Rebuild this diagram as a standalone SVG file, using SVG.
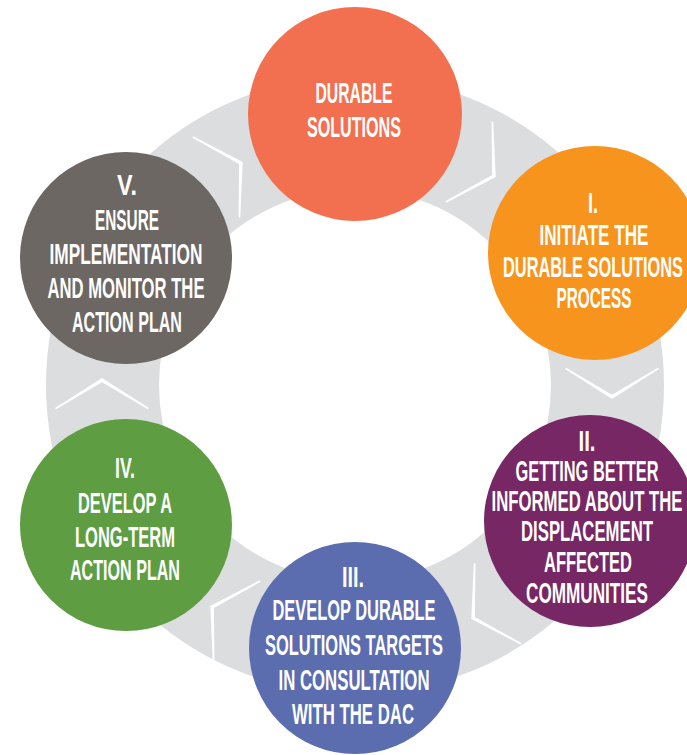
<svg xmlns="http://www.w3.org/2000/svg" width="687" height="755" viewBox="0 0 687 755">
  <defs>
    <style>
      .lbl { font-family: "Liberation Sans Narrow", "Liberation Sans", Arial, sans-serif; font-weight: bold; font-size: 29px; fill: #ffffff; text-anchor: middle; }
      .chev { fill: #ffffff; }
    </style>
    <path id="chev" d="M-28,-47 L2,0 L-28,47 L-29.3,45.8 L-2.2,0 L-29.3,-45.8 Z"/>
  </defs>
  <rect width="687" height="755" fill="#ffffff"/>
  <circle id="ring" cx="355" cy="385" r="252.5" fill="none" stroke="#DCDDDF" stroke-width="113"/>
  <g id="connectors" class="chev">
    <use href="#chev" transform="translate(241,163) rotate(-30)"/>
    <use href="#chev" transform="translate(494,176) rotate(30)"/>
    <use href="#chev" transform="translate(612,397) rotate(90)"/>
    <use href="#chev" transform="translate(473,618) rotate(150)"/>
    <use href="#chev" transform="translate(212,607) rotate(210)"/>
    <use href="#chev" transform="translate(102,380) rotate(270)"/>
  </g>
  <g id="node-durable">
    <circle cx="355" cy="114" r="107" fill="#F2704F"/>
    <text class="lbl" x="354" y="103" textLength="77" lengthAdjust="spacingAndGlyphs">DURABLE</text>
    <text class="lbl" x="354" y="137" textLength="94" lengthAdjust="spacingAndGlyphs">SOLUTIONS</text>
  </g>
  <g id="node-1">
    <circle cx="595" cy="253" r="107" fill="#F7941D"/>
    <text class="lbl" x="593" y="213" textLength="10" lengthAdjust="spacingAndGlyphs">I.</text>
    <text class="lbl" x="594" y="245" textLength="109" lengthAdjust="spacingAndGlyphs">INITIATE THE</text>
    <text class="lbl" x="593" y="277" textLength="180" lengthAdjust="spacingAndGlyphs">DURABLE SOLUTIONS</text>
    <text class="lbl" x="594" y="308" textLength="75" lengthAdjust="spacingAndGlyphs">PROCESS</text>
  </g>
  <g id="node-2">
    <circle cx="590" cy="521" r="106" fill="#762764"/>
    <text class="lbl" x="587" y="451" textLength="17" lengthAdjust="spacingAndGlyphs">II.</text>
    <text class="lbl" x="587" y="481" textLength="143" lengthAdjust="spacingAndGlyphs">GETTING BETTER</text>
    <text class="lbl" x="587" y="511" textLength="191" lengthAdjust="spacingAndGlyphs">INFORMED ABOUT THE</text>
    <text class="lbl" x="587" y="541" textLength="132" lengthAdjust="spacingAndGlyphs">DISPLACEMENT</text>
    <text class="lbl" x="588" y="572" textLength="88" lengthAdjust="spacingAndGlyphs">AFFECTED</text>
    <text class="lbl" x="587" y="603" textLength="122" lengthAdjust="spacingAndGlyphs">COMMUNITIES</text>
  </g>
  <g id="node-3">
    <circle cx="355" cy="648" r="106" fill="#5B6DAF"/>
    <text class="lbl" x="353" y="587" textLength="22" lengthAdjust="spacingAndGlyphs">III.</text>
    <text class="lbl" x="354" y="620" textLength="163" lengthAdjust="spacingAndGlyphs">DEVELOP DURABLE</text>
    <text class="lbl" x="354" y="655" textLength="178" lengthAdjust="spacingAndGlyphs">SOLUTIONS TARGETS</text>
    <text class="lbl" x="354" y="690" textLength="151" lengthAdjust="spacingAndGlyphs">IN CONSULTATION</text>
    <text class="lbl" x="353" y="724" textLength="122" lengthAdjust="spacingAndGlyphs">WITH THE DAC</text>
  </g>
  <g id="node-4">
    <circle cx="126" cy="525" r="106" fill="#5E9D42"/>
    <text class="lbl" x="125" y="478" textLength="20" lengthAdjust="spacingAndGlyphs">IV.</text>
    <text class="lbl" x="125" y="513" textLength="94" lengthAdjust="spacingAndGlyphs">DEVELOP A</text>
    <text class="lbl" x="125" y="547" textLength="100" lengthAdjust="spacingAndGlyphs">LONG-TERM</text>
    <text class="lbl" x="125" y="580" textLength="110" lengthAdjust="spacingAndGlyphs">ACTION PLAN</text>
  </g>
  <g id="node-5">
    <circle cx="126" cy="258" r="106" fill="#6D6763"/>
    <text class="lbl" x="127" y="195" textLength="20" lengthAdjust="spacingAndGlyphs">V.</text>
    <text class="lbl" x="127" y="230" textLength="64" lengthAdjust="spacingAndGlyphs">ENSURE</text>
    <text class="lbl" x="126" y="264" textLength="153" lengthAdjust="spacingAndGlyphs">IMPLEMENTATION</text>
    <text class="lbl" x="126" y="298" textLength="157" lengthAdjust="spacingAndGlyphs">AND MONITOR THE</text>
    <text class="lbl" x="127" y="332" textLength="110" lengthAdjust="spacingAndGlyphs">ACTION PLAN</text>
  </g>
</svg>
